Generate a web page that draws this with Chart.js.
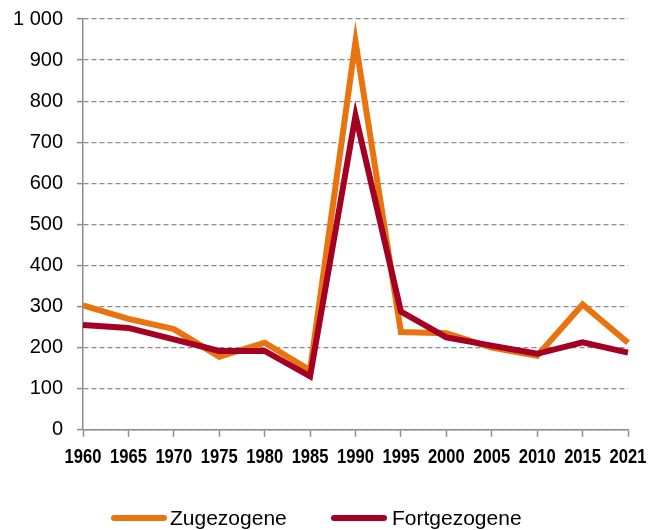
<!DOCTYPE html>
<html>
<head>
<meta charset="utf-8">
<script src="https://cdn.jsdelivr.net/npm/chart.js@4"></script>
<style>
  html, body { margin: 0; padding: 0; background: #fff; }
  #wrap { width: 665px; height: 530px; }
</style>
</head>
<body>
<div id="wrap"><canvas id="myChart" width="665" height="530"></canvas></div>
<script>
// years along the x axis
var years = ["1960", "1965", "1970", "1975", "1980", "1985", "1990", "1995", "2000", "2005", "2010", "2015", "2021"];
// Zugezogene (moved in)
var zugezogene = [303, 270, 245, 178, 212, 145, 945, 238, 235, 200, 180, 305, 212];
// Fortgezogene (moved away)
var fortgezogene = [255, 248, 220, 192, 192, 130, 765, 288, 225, 205, 185, 213, 188];
var yTicks = [0, 100, 200, 300, 400, 500, 600, 700, 800, 900, 1000];

var orange = "#E8730F";
var darkred = "#A30023";
var axisGrey = "#8c8c8c";
var sansFont = "'Liberation Sans', Arial, sans-serif";

function fmt(v) {
    // thousands with a space, like "1 000"
    return String(v).replace(/\B(?=(\d{3})+(?!\d))/g, " ");
}

// x labels are a narrow bold face in the original; no narrow font here,
// so squeeze a bold one horizontally. Legend is drawn here too.
const narrowLabels = {
    id: "narrowLabels",
    afterDraw(chart) {
        const c = chart.ctx;
        const xs = chart.scales.x;
        const area = chart.chartArea;
        c.save();
        c.fillStyle = "#000";
        c.font = "bold 21px " + sansFont;
        c.textAlign = "center";
        c.textBaseline = "middle";
        xs.ticks.forEach(function (t, i) {
            const px = xs.getPixelForTick(i);
            c.save();
            c.translate(px, area.bottom + 27);
            c.scale(0.79, 1);
            c.fillText(xs.getLabelForValue(t.value), 0, 0);
            c.restore();
        });
        c.restore();

        // legend
        const items = [{ x: 111, textX: 170 }, { x: 331, textX: 392 }];
        c.save();
        c.font = "21px " + sansFont;
        c.textBaseline = "middle";
        c.textAlign = "left";
        chart.data.datasets.forEach(function (ds, i) {
            const y = 518;
            c.strokeStyle = ds.borderColor;
            c.lineWidth = 6;
            c.lineCap = "round";
            c.beginPath();
            c.moveTo(items[i].x + 3, y);
            c.lineTo(items[i].x + 53, y);
            c.stroke();
            c.fillStyle = "#000";
            c.fillText(ds.label, items[i].textX, y + 1);
        });
        c.restore();
    }
};

let ctx = document.getElementById("myChart").getContext("2d");

let lineChart = new Chart(ctx, {
    type: "line",
    data: {
        labels: years,
        datasets: [{
            label: "Zugezogene",
            data: zugezogene,
            borderColor: orange,
            backgroundColor: orange,
            borderWidth: 6,
            pointRadius: 0,
            tension: 0,
            order: 1
        }, {
            label: "Fortgezogene",
            data: fortgezogene,
            borderColor: darkred,
            backgroundColor: darkred,
            borderWidth: 6,
            pointRadius: 0,
            tension: 0,
            order: 0
        }]
    },
    options: {
        responsive: false,
        animation: false,
        layout: {
            padding: { top: 19, right: 37, left: 0, bottom: 62 }
        },
        plugins: {
            tooltip: { enabled: false },
            legend: { display: false }
        },
        scales: {
            x: {
                offset: false,
                grid: {
                    drawOnChartArea: false,
                    drawTicks: true,
                    tickLength: 7,
                    tickColor: axisGrey,
                    tickWidth: 1.5
                },
                border: { color: axisGrey, width: 1.5 },
                ticks: {
                    color: "rgba(0,0,0,0)",
                    maxRotation: 0,
                    autoSkip: false,
                    padding: 6,
                    font: { family: sansFont, size: 16, weight: "bold" }
                }
            },
            y: {
                min: 0,
                max: 1000,
                afterBuildTicks: function (axis) {
                    axis.ticks = yTicks.map(function (v) { return { value: v }; });
                },
                grid: {
                    color: axisGrey,
                    lineWidth: 1.2,
                    tickLength: 6,
                    tickColor: axisGrey,
                    tickWidth: 1.5
                },
                border: { color: axisGrey, width: 1.5, dash: [5, 3] },
                ticks: {
                    color: "#000",
                    padding: 14,
                    font: { family: sansFont, size: 20 },
                    callback: function (v) { return fmt(v); }
                },
                afterFit: function (axis) {
                    axis.width = 83;
                    axis.paddingTop = 0;
                    axis.paddingBottom = 0;
                }
            }
        }
    },
    plugins: [narrowLabels]
});
</script>
</body>
</html>
